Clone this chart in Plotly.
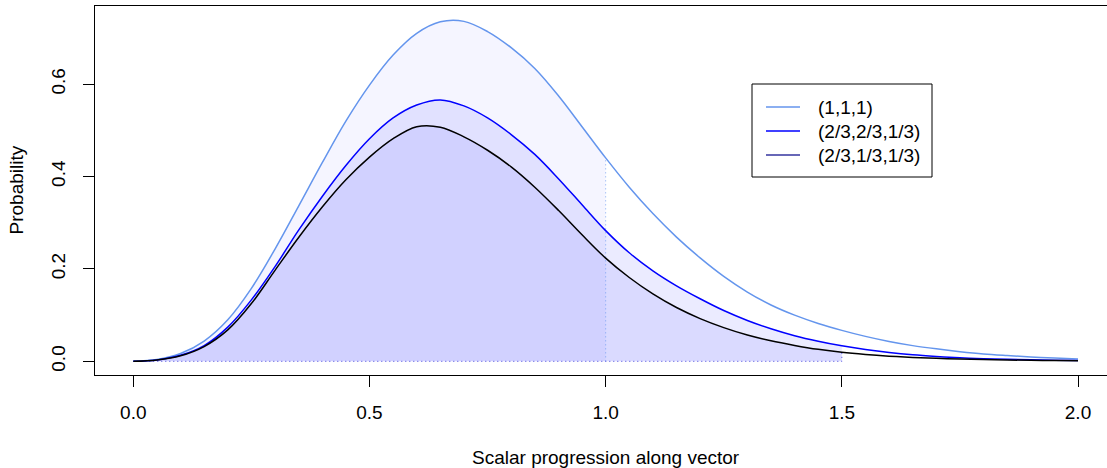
import plotly.graph_objects as go

# ---- data ----
xs = [0.00, 0.05, 0.10, 0.15, 0.20, 0.25, 0.30, 0.35, 0.40, 0.45,
      0.50, 0.55, 0.60, 0.65, 0.70, 0.75, 0.80, 0.85, 0.90, 0.95,
      1.00, 1.05, 1.10, 1.15, 1.20, 1.25, 1.30, 1.35, 1.40, 1.45,
      1.50, 1.55, 1.60, 1.65, 1.70, 1.75, 1.80, 1.85, 1.90, 1.95, 2.00]
y_111 = [0.000, 0.004, 0.017, 0.044, 0.090, 0.158, 0.243, 0.336, 0.430, 0.520,
         0.598, 0.663, 0.710, 0.735, 0.736, 0.714, 0.679, 0.634, 0.575, 0.508,
         0.4405, 0.377, 0.320, 0.269, 0.224, 0.184, 0.150, 0.122, 0.100, 0.082,
         0.067, 0.054, 0.043, 0.034, 0.027, 0.021, 0.016, 0.0125, 0.0095, 0.007, 0.005]
y_221 = [0.000, 0.003, 0.013, 0.034, 0.074, 0.133, 0.205, 0.284, 0.357, 0.424,
         0.482, 0.527, 0.555, 0.566, 0.553, 0.527, 0.491, 0.448, 0.3955, 0.339,
         0.283, 0.235, 0.196, 0.1635, 0.1355, 0.110, 0.0885, 0.0705, 0.0555, 0.0435,
         0.0335, 0.0255, 0.019, 0.014, 0.0105, 0.0078, 0.0058, 0.0043, 0.0032, 0.0024, 0.0018]
y_211 = [0.000, 0.003, 0.012, 0.032, 0.068, 0.125, 0.197, 0.268, 0.334, 0.393,
         0.442, 0.482, 0.508, 0.507, 0.486, 0.457, 0.421, 0.377, 0.327, 0.274,
         0.2235, 0.1815, 0.146, 0.1165, 0.0925, 0.073, 0.057, 0.0445, 0.0345, 0.026,
         0.0195, 0.0148, 0.0112, 0.0085, 0.0065, 0.005, 0.0038, 0.0029, 0.0022, 0.0017, 0.0013]
labels = ["(1,1,1)", "(2/3,2/3,1/3)", "(2/3,1/3,1/3)"]
x_ticks = [0.0, 0.5, 1.0, 1.5, 2.0]
x_ticktext = ["0.0", "0.5", "1.0", "1.5", "2.0"]
y_ticks = [0.0, 0.2, 0.4, 0.6]
y_ticktext = ["0.0", "0.2", "0.4", "0.6"]
fill_end_111 = 1.0
fill_end_221 = 1.5
fill_end_211 = 1.5

# ---- styles ----
C111 = "#6495ED"
C221 = "#0000FF"
C211 = "#000000"
LEG211 = "#35359F"
FONT = "Liberation Sans, Arial, sans-serif"
FS = 19

W, H = 1107, 468
ML, MR, MT, MB = 95, 0, 6, 93
PW, PH = W - ML - MR, H - MT - MB


def px_x(p):
    return (p - ML) / PW


def px_y(p):
    return (H - MB - p) / PH


def upto(end, ys):
    idx = [i for i, v in enumerate(xs) if v <= end + 1e-9]
    return [xs[i] for i in idx], [ys[i] for i in idx]


fig = go.Figure()

# shaded areas
for end, ys, fc in [(fill_end_111, y_111, "rgba(0,0,255,0.04)"),
                    (fill_end_221, y_221, "rgba(0,0,255,0.08)"),
                    (fill_end_211, y_211, "rgba(0,0,255,0.07)")]:
    fx, fy = upto(end, ys)
    fig.add_trace(go.Scatter(x=fx, y=fy, mode="lines",
                             line=dict(width=0, shape="spline", smoothing=1.0),
                             fill="tozeroy", fillcolor=fc,
                             hoverinfo="skip", showlegend=False))

# dotted borders of the shaded areas
i1 = xs.index(fill_end_111)
fig.add_trace(go.Scatter(x=[fill_end_111, fill_end_111], y=[0, y_111[i1]], mode="lines",
                         line=dict(color="rgba(100,149,237,0.8)", width=1, dash="1px,3px"),
                         hoverinfo="skip", showlegend=False))
i2 = xs.index(fill_end_211)
fig.add_trace(go.Scatter(x=[0, fill_end_211, fill_end_211], y=[0, 0, y_211[i2]], mode="lines",
                         line=dict(color="#4646DC", width=1, dash="1px,3px"),
                         hoverinfo="skip", showlegend=False))

# curves
for ys, c in [(y_111, C111), (y_221, C221), (y_211, C211)]:
    fig.add_trace(go.Scatter(x=xs, y=ys, mode="lines",
                             line=dict(color=c, width=1.5, shape="spline", smoothing=1.0),
                             showlegend=False))

axis_common = dict(showgrid=False, zeroline=False, showline=True, linecolor="black",
                   linewidth=1, ticks="outside", ticklen=11, tickwidth=1,
                   tickcolor="black", tickfont=dict(family=FONT, size=FS, color="black"))

fig.update_xaxes(range=[-0.0811, 2.0614], tickvals=x_ticks, ticktext=x_ticktext,
                 mirror=True, ticklabelstandoff=9, **axis_common)
fig.update_yaxes(range=[-0.0296, 0.7693], tickvals=y_ticks, ticktext=y_ticktext,
                 tickangle=-90, mirror=False, ticklabelstandoff=10, **axis_common)

shapes = []
annotations = []
# legend box
shapes.append(dict(type="rect", xref="paper", yref="paper",
                   x0=px_x(752), x1=px_x(932), y0=px_y(177), y1=px_y(84),
                   line=dict(color="black", width=1), fillcolor="white", layer="above"))
for lab, c, yp in zip(labels, [C111, C221, LEG211], [107, 131, 155]):
    shapes.append(dict(type="line", xref="paper", yref="paper",
                       x0=px_x(766), x1=px_x(800), y0=px_y(yp), y1=px_y(yp),
                       line=dict(color=c, width=1.5), layer="above"))
    annotations.append(dict(text=lab, xref="paper", yref="paper", x=px_x(816), y=px_y(yp),
                            xanchor="left", yanchor="middle", showarrow=False,
                            font=dict(family=FONT, size=FS, color="black")))

# axis titles
annotations.append(dict(text="Scalar progression along vector", xref="paper", yref="paper",
                        x=px_x(605.5), y=px_y(457), xanchor="center", yanchor="middle",
                        showarrow=False, font=dict(family=FONT, size=FS, color="black")))
annotations.append(dict(text="Probability", xref="paper", yref="paper",
                        x=px_x(16), y=px_y(190.5), xanchor="center", yanchor="middle",
                        textangle=-90, showarrow=False,
                        font=dict(family=FONT, size=FS, color="black")))

fig.update_layout(width=W, height=H, margin=dict(l=ML, r=MR, t=MT, b=MB, pad=0),
                  paper_bgcolor="white", plot_bgcolor="white",
                  shapes=shapes, annotations=annotations, showlegend=False)

fig.write_html("out.html")
